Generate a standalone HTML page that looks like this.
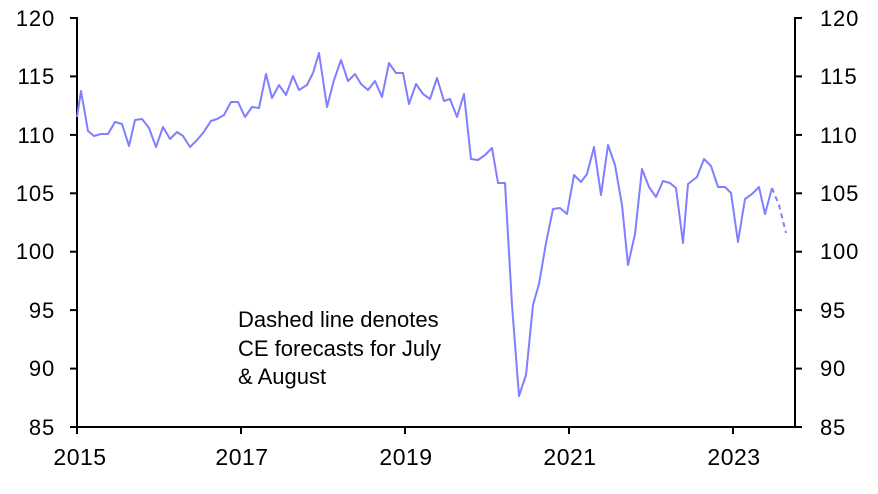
<!DOCTYPE html>
<html><head><meta charset="utf-8"><style>
html,body{margin:0;padding:0;background:#fff;}
svg{display:block;font-family:"Liberation Sans",Arial,sans-serif;}
</style></head><body>
<svg width="878" height="494" viewBox="0 0 878 494" xmlns="http://www.w3.org/2000/svg">
<g stroke="#000" stroke-width="2" fill="none">
<line x1="77" y1="17" x2="77" y2="428"/>
<line x1="795" y1="17" x2="795" y2="428"/>
<line x1="70" y1="427" x2="802" y2="427"/>
<line x1="70" y1="18" x2="77" y2="18"/><line x1="70" y1="76.4" x2="77" y2="76.4"/><line x1="70" y1="134.9" x2="77" y2="134.9"/><line x1="70" y1="193.3" x2="77" y2="193.3"/><line x1="70" y1="251.7" x2="77" y2="251.7"/><line x1="70" y1="310.1" x2="77" y2="310.1"/><line x1="70" y1="368.6" x2="77" y2="368.6"/>
<line x1="795" y1="18" x2="802" y2="18"/><line x1="795" y1="76.4" x2="802" y2="76.4"/><line x1="795" y1="134.9" x2="802" y2="134.9"/><line x1="795" y1="193.3" x2="802" y2="193.3"/><line x1="795" y1="251.7" x2="802" y2="251.7"/><line x1="795" y1="310.1" x2="802" y2="310.1"/><line x1="795" y1="368.6" x2="802" y2="368.6"/>
<line x1="77" y1="427" x2="77" y2="434"/><line x1="241" y1="427" x2="241" y2="434"/><line x1="405" y1="427" x2="405" y2="434"/><line x1="569" y1="427" x2="569" y2="434"/><line x1="733" y1="427" x2="733" y2="434"/>
</g>
<g font-size="22" fill="#000" text-anchor="end" letter-spacing="0.8">
<text x="55" y="26">120</text><text x="55" y="84">115</text><text x="55" y="143">110</text><text x="55" y="201">105</text><text x="55" y="259">100</text><text x="55" y="318">95</text><text x="55" y="376">90</text><text x="55" y="435">85</text>
</g>
<g font-size="22" fill="#000" text-anchor="start" letter-spacing="0.8">
<text x="820" y="26">120</text><text x="820" y="84">115</text><text x="820" y="143">110</text><text x="820" y="201">105</text><text x="820" y="259">100</text><text x="820" y="318">95</text><text x="820" y="376">90</text><text x="820" y="435">85</text>
</g>
<g font-size="23" fill="#000" text-anchor="middle" letter-spacing="0.5">
<text x="80" y="465">2015</text><text x="242" y="465">2017</text><text x="406" y="465">2019</text><text x="570" y="465">2021</text><text x="734" y="465">2023</text>
</g>
<g font-size="22" fill="#000">
<text x="238" y="327">Dashed line denotes</text>
<text x="238" y="356">CE forecasts for July</text>
<text x="238" y="384">&amp; August</text>
</g>
<polyline fill="none" stroke="#7f7fff" stroke-width="2" stroke-linejoin="round" points="77,117 81,91 88,131 94,136 101,134 108,134 115,122 122,124 129,146 135,120 142,119 149,128 156,147 163,127 170,139 177,132 183,136 190,147 197,140 203,133 211,121 217,119 224,115 231,102 238,102 245,117 252,107 259,108 266,74 272,98 279,85 286,95 293,76 299,90 307,85 313,73 319,53 327,107 334,80 341,60 348,81 355,74 361,84 368,90 375,81 382,97 389,63 396,73 403,73 409,104 416,84 423,94 430,99 437,78 444,101 450,99 457,117 464,94 471,159 478,160 485,155 492,148 498,183 505,183 512,305 519,396 526,375 533,305 539,284 546,243 553,209 560,208 567,214 574,175 581,182 587,174 594,147 601,195 608,145 615,165 622,205 628,265 635,234 642,169 649,187 656,197 663,181 670,183 676,188 683,243 688,184 697,177 704,159 711,166 718,187 725,187 731,193 738,242 745,199 752,194 759,187 765,214 772,188"/>
<polyline fill="none" stroke="#7f7fff" stroke-width="2" stroke-dasharray="5,4" points="772,188 779,205 786,233"/>
</svg>
</body></html>
